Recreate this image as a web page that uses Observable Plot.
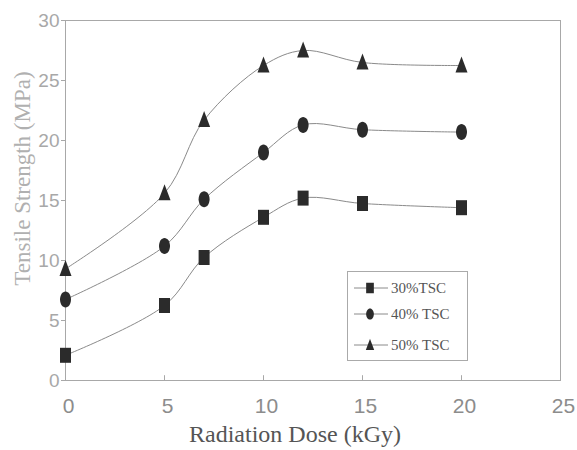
<!DOCTYPE html>
<html>
<head>
<meta charset="utf-8">
<script src="https://cdn.jsdelivr.net/npm/d3@7"></script>
<script src="https://cdn.jsdelivr.net/npm/@observablehq/plot@0.6"></script>
<style>
  html, body { margin: 0; padding: 0; background: #fff; }
  #wrap { position: relative; width: 577px; height: 450px; }
  #legend { position: absolute; left: 347px; top: 271px; width: 121px; height: 90px;
            border: 1px solid #aaa; box-sizing: border-box; background: #fff;
            font-family: "Liberation Serif", "DejaVu Serif", serif; font-size: 15px; color: #555; }
  .row { position: absolute; left: 6px; display: flex; align-items: center; }
  .row span { margin-left: 3px; }
</style>
</head>
<body>
<div id="wrap"><div id="legend"></div></div>
<script>
const doses = [0, 5, 7, 10, 12, 15, 20];
const tsc30 = [2.1, 6.25, 10.25, 13.6, 15.2, 14.75, 14.4];
const tsc40 = [6.75, 11.2, 15.1, 19.0, 21.3, 20.9, 20.7];
const tsc50 = [9.3, 15.6, 21.7, 26.25, 27.5, 26.5, 26.25];
const seriesNames = ["30%TSC", "40% TSC", "50% TSC"];
const xTicks = [0, 5, 10, 15, 20, 25];
const yTicks = [0, 5, 10, 15, 20, 25, 30];

const SERIF = "'Liberation Serif', 'Times New Roman', serif";
const SANS = "'Liberation Sans', Arial, sans-serif";

const K = 0.5523;
const sqSym = {draw(c) { c.rect(-5.5, -7.5, 11, 15); }};
const triSym = {draw(c) { c.moveTo(0, -9); c.lineTo(6, 7); c.lineTo(-6, 7); c.closePath(); }};
const ellSym = {draw(c) {
  const rx = 5.5, ry = 8;
  c.moveTo(rx, 0);
  c.bezierCurveTo(rx, ry * K, rx * K, ry, 0, ry);
  c.bezierCurveTo(-rx * K, ry, -rx, ry * K, -rx, 0);
  c.bezierCurveTo(-rx, -ry * K, -rx * K, -ry, 0, -ry);
  c.bezierCurveTo(rx * K, -ry, rx, -ry * K, rx, 0);
  c.closePath();
}};
const syms = [sqSym, ellSym, triSym];
const allSeries = [tsc30, tsc40, tsc50];

const rows = allSeries.flatMap((vals, i) => vals.map((v, j) => ({x: doses[j], y: v, s: seriesNames[i]})));

const marks = [
  Plot.frame({stroke: "#a8a8a8"}),
  Plot.ruleX(xTicks.slice(1, -1), {y1: 0, y2: 0.4, stroke: "#a8a8a8"}),
  Plot.axisX({ticks: xTicks, tickSize: 0, tickPadding: 18, dx: 3, fontSize: 21, fill: "#8c8c8c",
    fontFamily: SANS, label: null}),
  Plot.axisY({ticks: yTicks, tickSize: 4, tickPadding: 2, fontSize: 19, fill: "#a8a8a8", stroke: "#a8a8a8",
    fontFamily: SANS, label: null}),
  Plot.text(["Tensile Strength (MPa)"], {frameAnchor: "left", textAnchor: "middle", dx: -43, dy: -22, rotate: -90,
    fontSize: 23, fill: "#b0b0b0", fontFamily: SERIF}),
  Plot.text(["Radiation Dose (kGy)"], {frameAnchor: "bottom", dy: 61, dx: -18,
    fontSize: 24, fill: "#555", fontFamily: SERIF}),
];
seriesNames.forEach((name, i) => {
  const d = rows.filter(r => r.s === name);
  marks.push(Plot.line(d, {x: "x", y: "y", curve: "catmull-rom", stroke: "#8a8a8a", strokeWidth: 1}));
  marks.push(Plot.dot(d, {x: "x", y: "y", symbol: () => syms[i], fill: "#2b2b2b", stroke: "none", r: 6}));
});

const chart = Plot.plot({
  width: 577, height: 450,
  marginLeft: 65, marginRight: 17, marginTop: 20, marginBottom: 70,
  x: {domain: [0, 25]},
  y: {domain: [0, 30]},
  symbol: {type: "identity"},
  style: {background: "#fff"},
  marks
});
document.getElementById("wrap").prepend(chart);

const leg = document.getElementById("legend");
const ys = [16, 42, 73];
seriesNames.forEach((name, i) => {
  const row = document.createElement("div");
  row.className = "row";
  row.style.top = (ys[i] - 9) + "px";
  const svg = d3.create("svg").attr("width", 34).attr("height", 18);
  svg.append("line").attr("x1", 0).attr("x2", 34).attr("y1", 9).attr("y2", 9).attr("stroke", "#8a8a8a");
  const p = d3.path(); syms[i].draw(p);
  svg.append("path").attr("d", p.toString()).attr("transform", `translate(16,9) scale(0.7)`).attr("fill", "#2b2b2b");
  row.appendChild(svg.node());
  const t = document.createElement("span"); t.textContent = name;
  row.appendChild(t);
  leg.appendChild(row);
});
</script>
</body>
</html>
